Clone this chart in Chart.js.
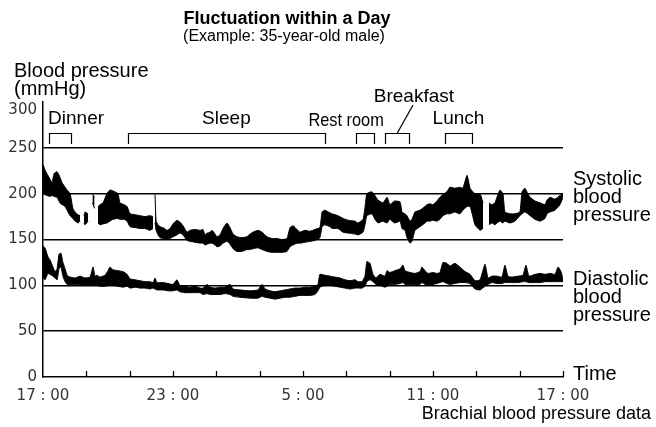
<!DOCTYPE html>
<html>
<head>
<meta charset="utf-8">
<script src="https://cdn.jsdelivr.net/npm/chart.js@4.4.1/dist/chart.umd.min.js"></script>
<style>
  html, body { margin: 0; padding: 0; background: #fff; }
  #wrap { width: 656px; height: 427px; }
</style>
</head>
<body>
<div id="wrap"><canvas id="bp" width="656" height="427"></canvas></div>
<script>
// time axis = hours after 17:00, null = gap in the recording
const sysTime = [0,0.09,0.18,0.32,0.42,0.51,0.65,0.78,0.88,1.02,1.11,1.25,1.38,1.48,1.62,1.71,1.80,1.89,1.94,2.08,2.20,2.28,2.38,2.46,
  2.54,2.63,2.77,2.95,3.09,3.23,3.46,3.55,3.74,3.88,4.02,4.25,4.48,4.71,4.94,5.08,5.12,
  5.17,5.22,5.31,5.40,5.54,5.72,5.86,6.00,6.18,6.32,6.46,6.65,6.78,7.01,7.25,7.38,7.48,7.57,7.71,7.80,7.94,8.03,8.17,8.31,8.49,8.63,8.77,8.95,
  9.18,9.41,9.55,9.69,9.92,10.11,10.34,10.57,10.80,11.03,11.26,11.40,11.54,11.72,11.86,12.09,12.32,12.55,12.78,12.88,13.01,13.25,13.34,13.61,
  13.85,14.08,14.40,14.54,14.77,14.86,14.95,15.18,15.32,15.46,15.69,15.88,16.01,16.11,16.24,16.48,16.57,16.71,16.80,16.94,17.03,17.17,17.40,
  17.63,17.72,17.86,18.00,18.18,18.32,18.46,18.64,18.78,19.01,19.24,19.38,19.57,19.71,19.84,19.94,20.17,20.31,20.45,
  20.58,20.72,20.86,20.95,21.09,21.23,21.32,21.55,21.78,22.01,22.11,22.24,22.38,22.48,22.71,22.94,23.17,23.26,23.40,23.63,23.86,24.00];
const sysHigh = [232,226,222,216,212,222,224,218,212,207,204,200,184,180,177,176,null,176,180,178,null,200,196,null,
  186,188,190,200,204,203,200,190,188,186,178,177,176,175,176,175,null,
  199,170,166,164,163,160,162,167,171,169,165,158,160,161,160,161,155,157,158,160,156,153,155,162,168,163,156,153,
  152,153,156,158,160,158,153,151,151,150,151,163,165,161,158,160,159,161,163,180,182,179,178,176,
  173,171,170,168,172,185,200,202,198,193,190,196,188,190,192,191,180,178,176,170,172,180,182,
  186,188,189,188,192,196,199,202,207,206,207,206,220,206,202,200,200,190,null,
  190,188,190,196,204,200,180,178,178,180,202,206,200,196,192,190,188,193,196,194,198,200];
const sysLow = [200,199,198,197,198,197,196,190,188,186,182,176,173,170,168,170,null,168,166,170,null,190,184,null,
  168,166,167,168,170,172,173,172,172,170,164,163,162,162,160,162,null,
  168,160,155,152,151,150,151,153,155,157,155,149,148,147,146,146,144,145,146,146,144,142,143,146,148,145,140,137,
  137,139,139,140,141,139,137,136,136,136,137,142,144,146,146,147,148,149,152,164,166,164,162,162,
  158,157,156,155,158,166,176,178,172,168,170,168,172,170,168,170,162,160,152,146,148,160,164,
  168,170,170,171,170,172,176,178,178,180,178,182,186,186,175,166,160,162,null,
  166,168,166,168,170,168,170,168,170,176,178,180,178,176,172,170,173,178,180,182,188,196];

const diaTime = [0,0.09,0.23,0.32,0.46,0.55,0.65,0.74,0.83,0.92,1.02,1.11,1.25,1.48,1.71,1.94,2.17,2.31,2.40,2.49,2.63,2.86,3.00,3.09,3.23,
  3.46,3.69,3.88,4.02,4.25,4.48,4.71,4.94,5.08,5.17,5.26,5.54,5.77,6.00,6.18,6.32,6.55,6.78,7.01,7.25,7.38,7.57,7.71,7.94,8.17,8.40,8.63,
  8.77,9.09,9.55,9.92,10.11,10.25,10.48,10.71,10.94,11.17,11.40,11.63,11.86,12.09,12.32,12.55,12.69,12.78,13.01,13.25,13.48,13.71,13.94,
  14.17,14.40,14.54,14.72,14.86,14.95,15.09,15.23,15.37,15.55,15.78,15.88,16.01,16.24,16.48,16.61,16.71,16.94,17.17,17.40,17.49,17.63,
  17.77,18.00,18.18,18.32,18.46,18.64,18.78,19.01,19.24,19.48,19.71,19.94,20.17,20.40,20.54,20.72,20.95,21.18,21.32,21.46,21.64,21.92,
  22.15,22.29,22.43,22.71,22.94,23.17,23.40,23.63,23.77,23.91,24.00];
const diaHigh = [143,141,131,128,120,115,118,134,135,125,118,111,109,108,110,108,109,120,110,111,109,111,116,120,117,
  116,115,112,107,106,105,104,104,103,108,103,103,102,101,106,100,99,98,99,97,97,101,98,97,98,98,101,
  96,95,94,95,101,96,94,93,94,95,96,97,97,98,98,99,101,112,111,110,109,108,106,
  105,106,104,104,110,126,124,112,108,112,110,116,114,116,118,122,116,114,113,115,120,116,
  113,114,113,114,125,124,121,124,120,115,112,105,106,123,108,110,110,109,122,110,109,110,
  111,122,110,112,113,112,113,112,120,115,106];
const diaLow = [108,106,113,112,110,108,106,118,120,110,104,101,101,101,101,100,100,101,100,100,99,99,100,101,100,
  99,98,99,97,98,97,97,96,97,96,95,95,94,94,95,93,92,92,92,92,90,91,90,90,90,91,90,
  88,87,86,86,88,87,86,85,86,87,87,88,89,89,89,90,94,98,100,100,99,98,97,
  96,97,97,97,99,104,106,104,101,100,98,99,101,101,102,103,101,101,101,101,103,101,
  100,101,102,103,104,102,101,102,103,103,102,96,95,99,101,103,102,102,103,103,103,103,
  104,104,103,103,103,104,104,104,104,104,104];

const clockLabels = ['17 : 00', '23 : 00', '5 : 00', '11 : 00', '17 : 00'];
const mealNames = ['Dinner', 'Sleep', 'Rest room', 'Breakfast', 'Lunch'];
const mealStart = [0.28, 3.92, 14.45, 15.78, 18.55];
const mealEnd = [1.29, 13.01, 15.28, 16.89, 19.80];

const pts = (t, v) => t.map((x, i) => ({ x, y: v[i] }));
const band = (data, fill) => ({
  data, fill, backgroundColor: '#000', borderColor: '#000', borderWidth: 1,
  pointRadius: 0, tension: 0.15, spanGaps: false
});

const FONT = '"Liberation Sans", Arial, sans-serif';
const TICK_FONT = '"DejaVu Sans", sans-serif';

const annotations = {
  id: 'annotations',
  afterDraw(chart) {
    const { ctx, chartArea } = chart;
    const x = chart.scales.x, y = chart.scales.y;
    ctx.save();
    ctx.strokeStyle = '#000';
    ctx.fillStyle = '#000';

    // inner time ticks every 2 h
    ctx.lineWidth = 1.3;
    for (let h = 2; h <= 24; h += 2) {
      const px = Math.round(x.getPixelForValue(h)) + 0.5;
      ctx.beginPath();
      ctx.moveTo(px, chartArea.bottom);
      ctx.lineTo(px, chartArea.bottom - 6);
      ctx.stroke();
    }

    // top tick label sits a little below the axis end, as in the print
    ctx.fillStyle = '#333';
    ctx.font = '15px ' + TICK_FONT;
    ctx.textAlign = 'right';
    ctx.textBaseline = 'middle';
    ctx.fillText('300', chartArea.left - 6, y.getPixelForValue(300) + 8);
    ctx.fillStyle = '#000';

    // meal / sleep brackets
    const bTop = Math.round(y.getPixelForValue(266)) + 0.5;
    const bBot = Math.round(y.getPixelForValue(254));
    ctx.lineWidth = 1.2;
    mealStart.forEach((s, i) => {
      const a = Math.round(x.getPixelForValue(s)) + 0.5;
      const b = Math.round(x.getPixelForValue(mealEnd[i])) + 0.5;
      ctx.beginPath();
      ctx.moveTo(a, bBot); ctx.lineTo(a, bTop); ctx.lineTo(b, bTop); ctx.lineTo(b, bBot);
      ctx.stroke();
    });

    ctx.font = '19px ' + FONT;
    ctx.textBaseline = 'alphabetic';
    const mid = i => (x.getPixelForValue(mealStart[i]) + x.getPixelForValue(mealEnd[i])) / 2;
    ctx.textAlign = 'left';
    ctx.fillText(mealNames[0], x.getPixelForValue(mealStart[0]) - 1, 124);
    ctx.textAlign = 'center';
    ctx.fillText(mealNames[1], mid(1), 124);
    ctx.fillText(mealNames[4], mid(4), 124);
    ctx.fillText(mealNames[3], mid(3) + 17, 102);
    // condensed "Rest room"
    ctx.save();
    ctx.translate(mid(2) - 19, 126);
    ctx.scale(0.86, 1);
    ctx.fillText(mealNames[2], 0, 0);
    ctx.restore();
    // pointer from Breakfast bracket to its label
    ctx.beginPath();
    ctx.moveTo(x.getPixelForValue(16.34), bTop);
    ctx.lineTo(x.getPixelForValue(17.08), 105);
    ctx.stroke();

    // right side labels
    const rx = chartArea.right + 10;
    ctx.textAlign = 'left';
    ctx.font = '20px ' + FONT;
    [['Systolic', 185], ['blood', 203], ['pressure', 221],
     ['Diastolic', 285], ['blood', 303], ['pressure', 321],
     ['Time', 380]].forEach(([t, by]) => ctx.fillText(t, rx, by));

    ctx.textAlign = 'right';
    ctx.font = '18px ' + FONT;
    ctx.fillText('Brachial blood pressure data', 651, 419);

    // y axis title
    ctx.textAlign = 'left';
    ctx.font = '20px ' + FONT;
    ctx.fillText('Blood pressure', 14, 77);
    ctx.fillText('(mmHg)', 14, 95);

    // chart title
    ctx.textAlign = 'center';
    ctx.font = 'bold 18px ' + FONT;
    ctx.fillText('Fluctuation within a Day', 287, 24);
    ctx.font = '16px ' + FONT;
    ctx.fillText('(Example: 35-year-old male)', 284, 41);
    ctx.restore();
  }
};

new Chart(document.getElementById('bp'), {
  type: 'line',
  data: {
    datasets: [
      band(pts(sysTime, sysHigh), '+1'),
      band(pts(sysTime, sysLow), false),
      band(pts(diaTime, diaHigh), '+1'),
      band(pts(diaTime, diaLow), false)
    ]
  },
  options: {
    responsive: false,
    animation: false,
    layout: { padding: { left: 0, right: 93, top: 102, bottom: 0 } },
    plugins: { legend: { display: false }, tooltip: { enabled: false } },
    scales: {
      x: {
        type: 'linear', min: 0, max: 24,
        grid: { display: false, drawTicks: false },
        border: { display: true, color: '#000', width: 1.5 },
        ticks: {
          stepSize: 6, autoSkip: false, maxRotation: 0, padding: 10,
          color: '#333', font: { family: TICK_FONT, size: 15 },
          callback: v => clockLabels[v / 6] ?? ''
        },
        afterFit: s => { s.height = 50; }
      },
      y: {
        min: 0, max: 300,
        grid: {
          drawTicks: false, lineWidth: 1.5,
          color: c => (c.tick.value === 300 || c.tick.value === 0) ? 'rgba(0,0,0,0)' : '#000'
        },
        border: { display: true, color: '#000', width: 1.5 },
        ticks: {
          stepSize: 50, padding: 6, color: '#333',
          font: { family: TICK_FONT, size: 15 },
          callback: v => v === 300 ? '' : v
        },
        afterFit: s => { s.width = 43; }
      }
    }
  },
  plugins: [annotations]
});
</script>
</body>
</html>
